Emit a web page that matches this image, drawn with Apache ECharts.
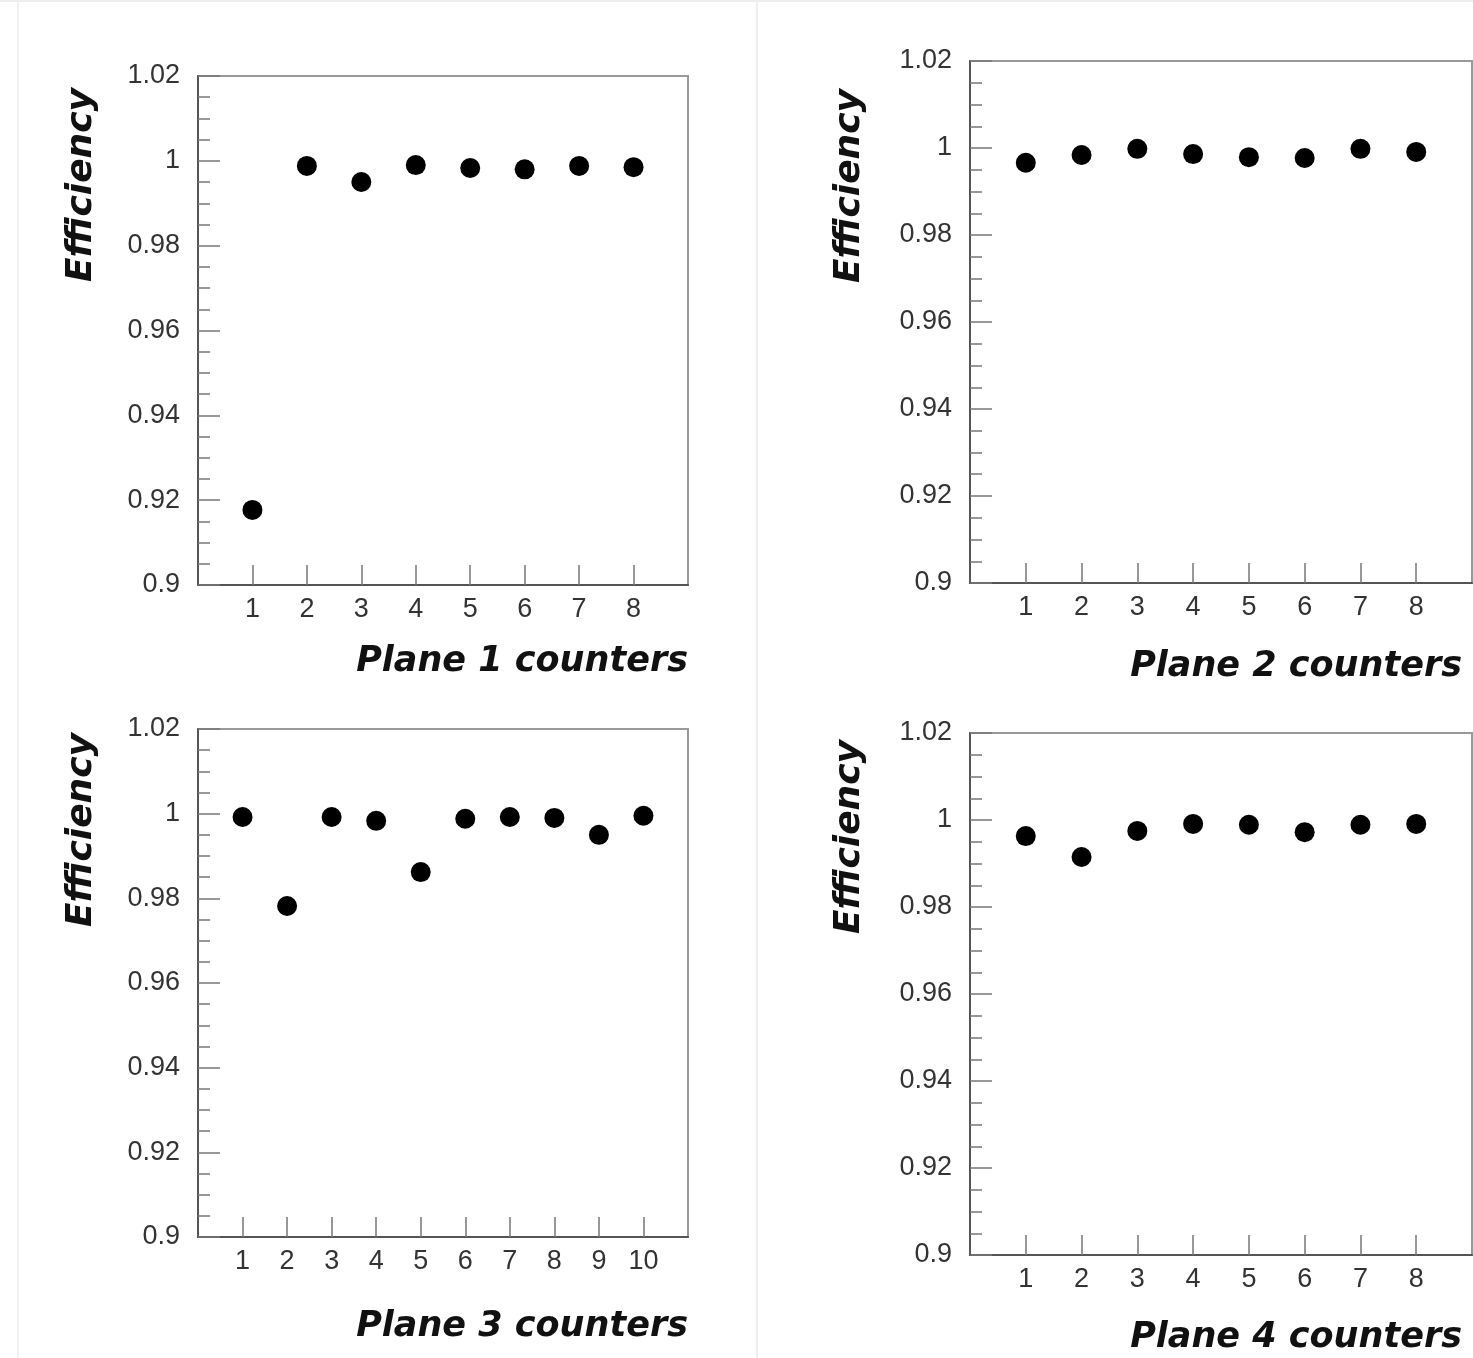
<!DOCTYPE html>
<html>
<head>
<meta charset="utf-8">
<script src="https://cdn.jsdelivr.net/npm/echarts@6/dist/echarts.min.js"></script>
<style>
  html, body { margin: 0; padding: 0; background: #fff; }
  #chart { width: 1473px; height: 1358px; }
</style>
</head>
<body>
<div id="chart"></div>
<script>
// efficiency per counter
var plane1 = [0.9177, 0.9988, 0.995, 0.999, 0.9983, 0.998, 0.9988, 0.9985];
var plane2 = [0.9966, 0.9984, 0.9998, 0.9986, 0.9979, 0.9977, 0.9998, 0.9991];
var plane3 = [0.9992, 0.9782, 0.9992, 0.9983, 0.9862, 0.9988, 0.9992, 0.999, 0.995, 0.9995];
var plane4 = [0.9963, 0.9915, 0.9975, 0.9991, 0.9989, 0.9972, 0.9989, 0.9991];
var yTicks = [0.9, 0.92, 0.94, 0.96, 0.98, 1, 1.02];
var xNames = ["Plane 1 counters", "Plane 2 counters", "Plane 3 counters", "Plane 4 counters"];
var yName = "Efficiency";

var panels = [
  { data: plane1, grid: { left: 198, top: 76, width: 490, height: 509 } },
  { data: plane2, grid: { left: 970, top: 61, width: 502, height: 522 } },
  { data: plane3, grid: { left: 198, top: 729, width: 490, height: 508 } },
  { data: plane4, grid: { left: 970, top: 733, width: 502, height: 522 } }
];

// title positions (text only)
var yNamePos = [[82, 185], [850, 186], [82, 830], [850, 837]];
var xNamePos = [[688, 662], [1462, 667], [688, 1327], [1462, 1338]];

var tickFont = { color: "#333", fontSize: 27, fontFamily: "Liberation Sans, Arial, sans-serif" };

var grids = [], xAxes = [], yAxes = [], series = [], graphics = [];

panels.forEach(function (p, i) {
  var n = p.data.length;
  var counters = [];
  for (var k = 1; k <= n; k++) counters.push(k);

  grids.push(Object.assign({
    show: true,
    borderColor: "#999",
    borderWidth: 2,
    backgroundColor: "#fff"
  }, p.grid));

  xAxes.push({
    gridIndex: i,
    type: "value",
    min: 0,
    max: n + 1,
    interval: 1,
    axisLine: { show: true, onZero: false, lineStyle: { color: "#555", width: 2 } },
    axisTick: { show: true, inside: true, length: 20, customValues: counters, lineStyle: { color: "#777", width: 1.5 } },
    axisLabel: Object.assign({ margin: 11, customValues: counters }, tickFont),
    splitLine: { show: false }
  });

  yAxes.push({
    gridIndex: i,
    type: "value",
    min: yTicks[0],
    max: yTicks[yTicks.length - 1],
    interval: 0.02,
    axisLine: { show: true, lineStyle: { color: "#555", width: 2 } },
    axisTick: { show: true, inside: true, length: 22, lineStyle: { color: "#777", width: 1.5 } },
    minorTick: { show: true, splitNumber: 4, length: 12, lineStyle: { color: "#777", width: 1.5 } },
    axisLabel: Object.assign({
      margin: 18,
      formatter: function (v) { return String(+v.toFixed(2)); }
    }, tickFont),
    splitLine: { show: false }
  });

  series.push({
    type: "scatter",
    xAxisIndex: i,
    yAxisIndex: i,
    symbol: "circle",
    symbolSize: 20,
    itemStyle: { color: "#000", opacity: 1 },
    silent: true,
    data: p.data.map(function (v, k) { return [k + 1, v]; })
  });

  graphics.push({
    type: "text",
    x: yNamePos[i][0],
    y: yNamePos[i][1],
    rotation: Math.PI / 2,
    style: {
      text: yName,
      font: "italic bold 36px 'DejaVu Sans', sans-serif",
      fill: "#111",
      align: "center",
      verticalAlign: "middle"
    }
  });
  graphics.push({
    type: "text",
    x: xNamePos[i][0],
    y: xNamePos[i][1],
    style: {
      text: xNames[i],
      font: "italic bold 35px 'DejaVu Sans', sans-serif",
      fill: "#111",
      align: "right",
      verticalAlign: "middle"
    }
  });
});

// faint frame lines of the original figure
graphics.push({ type: "line", shape: { x1: 757, y1: 0, x2: 757, y2: 1358 }, style: { stroke: "#eee", lineWidth: 2 } });
graphics.push({ type: "line", shape: { x1: 18, y1: 0, x2: 18, y2: 1358 }, style: { stroke: "#f2f2f2", lineWidth: 2 } });
graphics.push({ type: "line", shape: { x1: 0, y1: 1, x2: 1473, y2: 1 }, style: { stroke: "#eee", lineWidth: 2 } });

var myChart = echarts.init(document.getElementById("chart"));
myChart.setOption({
  animation: false,
  grid: grids,
  xAxis: xAxes,
  yAxis: yAxes,
  series: series,
  graphic: graphics
});
</script>
</body>
</html>
